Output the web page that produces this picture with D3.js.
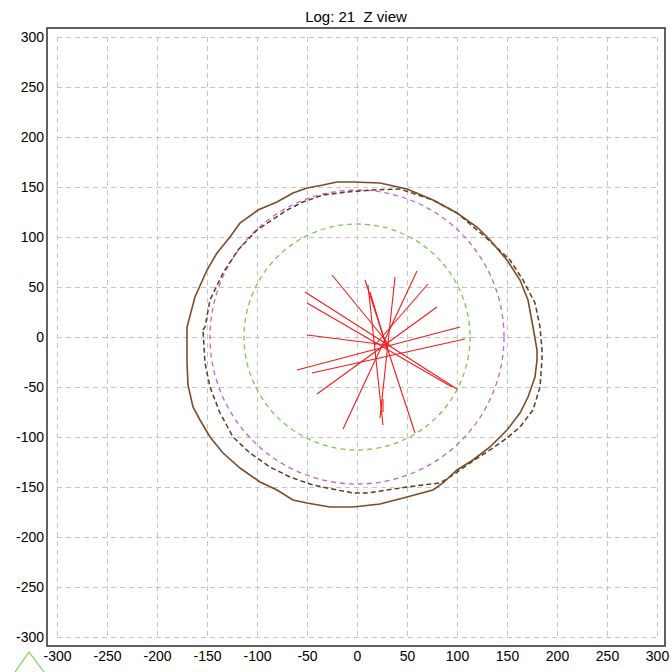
<!DOCTYPE html>
<html>
<head>
<meta charset="utf-8">
<script src="https://cdn.jsdelivr.net/npm/d3@7"></script>
<style>
  html, body { margin: 0; padding: 0; background: #ffffff; }
  svg { display: block; }
  text { font-family: "Liberation Sans", Arial, sans-serif; fill: #000; }
</style>
</head>
<body>
<svg id="chart" width="672" height="672"></svg>
<script>
// Axis ticks (same for X and Y)
const tickValues = [-300, -250, -200, -150, -100, -50, 0, 50, 100, 150, 200, 250, 300];
const titleText = "Log: 21  Z view";

// Reference circles: [cx, cy, radius]
const innerCircle = [0, 0, 113];   // green
const outerCircle = [0, 0, 147];   // magenta

// Outline traced as a solid brown line: [x, y]
const solidOutline = [
  [-170, 7], [-170, 10], [-162, 40], [-150, 67], [-140, 84], [-127, 100], [-117, 114],
  [-99, 127], [-80, 135], [-64, 144], [-50, 149], [-34, 152], [-20, 155], [-4, 155],
  [23, 154], [50, 148], [76, 137], [100, 124], [120, 110], [133, 97], [150, 77],
  [163, 57], [171, 37], [176, 10], [180, -13], [180, -23], [178, -40], [171, -60],
  [163, -76], [150, -93], [133, -110], [116, -123], [100, -133], [86, -146], [76, -153],
  [50, -160], [23, -167], [-4, -170], [-27, -170], [-50, -166], [-64, -163], [-80, -153],
  [-97, -145], [-117, -131], [-134, -116], [-147, -100], [-157, -83], [-164, -70],
  [-169, -48], [-170, -26], [-170, 7]
];

// Second outline drawn dashed in dark brown: [x, y]
const dashedOutline = [
  [-154, 7], [-152, 10], [-147, 37], [-134, 64], [-119, 87], [-100, 107], [-85, 117],
  [-70, 127], [-54, 135], [-34, 142], [-10, 145], [16, 147], [43, 148], [76, 137],
  [100, 124], [126, 102], [136, 93], [153, 77], [166, 57], [178, 34], [183, 10],
  [185, -13], [185, -23], [183, -50], [176, -73], [163, -90], [150, -101], [133, -113],
  [113, -126], [96, -138], [83, -146], [66, -148], [50, -150], [30, -153], [10, -156],
  [-4, -156], [-20, -153], [-44, -148], [-67, -140], [-87, -130], [-107, -116],
  [-124, -100], [-137, -76], [-147, -50], [-152, -26], [-154, 7]
];

// Red segments: [x1, y1, x2, y2]
const redSegments = [
  [-52, 45, 100, -52],
  [-50, 34, 95, -50],
  [-50, 2, 30, -8],
  [-60, -33, 103, 10],
  [-45, -36, 108, -2],
  [-40, -57, 80, 30],
  [-14, -92, 60, 66],
  [8, 57, 58, -96],
  [38, 60, 23, -81],
  [11, 52, 26, -88],
  [-25, 62, 34, -10],
  [71, 53, 18, -8],
  [13, 45, 30, -12],
  [26, -62, 26, -75]
];

const svg = d3.select("#chart");

// 1 px per unit; the frame extends slightly past the ±300 grid
const x = d3.scaleLinear().domain([-310, 308]).range([47, 665]);
const y = d3.scaleLinear().domain([309, -309]).range([28, 646]);

// Grid
const grid = svg.append("g")
  .attr("stroke", "#c4c4c4")
  .attr("stroke-width", 1)
  .attr("stroke-dasharray", "5,4");
grid.selectAll("line.v").data(tickValues).join("line")
  .attr("class", "v")
  .attr("x1", d => Math.round(x(d)) + 0.5).attr("x2", d => Math.round(x(d)) + 0.5)
  .attr("y1", y(300)).attr("y2", y(-300));
grid.selectAll("line.h").data(tickValues).join("line")
  .attr("class", "h")
  .attr("y1", d => Math.round(y(d)) + 0.5).attr("y2", d => Math.round(y(d)) + 0.5)
  .attr("x1", x(-300)).attr("x2", x(300));

// Frame
svg.append("rect")
  .attr("x", 47).attr("y", 28)
  .attr("width", 618).attr("height", 618)
  .attr("fill", "none")
  .attr("stroke", "#3a3a3a")
  .attr("stroke-width", 1.6);

// Axis labels via d3 axes (tick lines hidden)
const yAxis = d3.axisLeft(y).tickValues(tickValues).tickSize(0).tickPadding(3);
const yg = svg.append("g").attr("transform", "translate(47,0)").call(yAxis);
const xAxis = d3.axisBottom(x).tickValues(tickValues).tickSize(0).tickPadding(5);
const xg = svg.append("g").attr("transform", "translate(0,646)").call(xAxis);
[yg, xg].forEach(g => {
  g.select(".domain").remove();
  g.selectAll("text")
    .attr("font-family", "'Liberation Sans', Arial, sans-serif")
    .attr("font-size", 14)
    .attr("fill", "#000")
    .text(d => String(d).replace("\u2212", "-"));
});

// Title (keeps its double space)
svg.append("text")
  .attr("x", 356).attr("y", 22)
  .attr("text-anchor", "middle")
  .attr("font-size", 15)
  .style("white-space", "pre")
  .attr("xml:space", "preserve")
  .text(titleText);

// Circles
svg.append("circle")
  .attr("cx", x(innerCircle[0])).attr("cy", y(innerCircle[1]))
  .attr("r", x(innerCircle[2]) - x(0))
  .attr("fill", "none").attr("stroke", "#7cc84e")
  .attr("stroke-width", 1.3).attr("stroke-dasharray", "5,4");
svg.append("circle")
  .attr("cx", x(outerCircle[0])).attr("cy", y(outerCircle[1]))
  .attr("r", x(outerCircle[2]) - x(0))
  .attr("fill", "none").attr("stroke", "#c464c4")
  .attr("stroke-width", 1.3).attr("stroke-dasharray", "5,4");

// Outlines
const line = d3.line().x(d => x(d[0])).y(d => y(d[1]));
svg.append("path").datum(dashedOutline)
  .attr("d", line)
  .attr("fill", "none").attr("stroke", "#5e3a1e")
  .attr("stroke-width", 1.5).attr("stroke-dasharray", "5,3");
svg.append("path").datum(solidOutline)
  .attr("d", line)
  .attr("fill", "none").attr("stroke", "#7a4c28")
  .attr("stroke-width", 1.6);

// Red segments
svg.append("g").selectAll("line").data(redSegments).join("line")
  .attr("x1", d => x(d[0])).attr("y1", d => y(d[1]))
  .attr("x2", d => x(d[2])).attr("y2", d => y(d[3]))
  .attr("stroke", "#f21c1c").attr("stroke-width", 1.1);

// Orientation marker in the lower-left corner
svg.append("polyline")
  .attr("points", "15,672 29,652 44,672")
  .attr("fill", "none").attr("stroke", "#7cd05a").attr("stroke-width", 1.2);
</script>
</body>
</html>
